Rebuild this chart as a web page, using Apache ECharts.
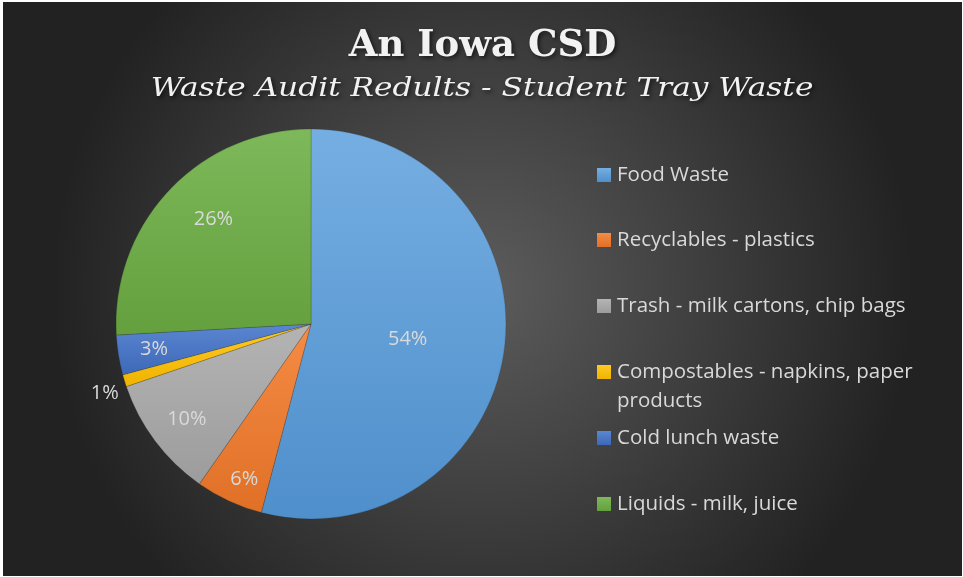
<!DOCTYPE html>
<html>
<head>
<meta charset="utf-8">
<script src="https://cdn.jsdelivr.net/npm/echarts@6/dist/echarts.min.js"></script>
<style>
html,body{margin:0;padding:0;background:#ffffff;width:963px;height:577px;overflow:hidden;}
#chart{position:absolute;left:3px;top:2px;width:959px;height:574px;}
</style>
</head>
<body>
<div id="chart"></div>
<script>
const titleText = 'An Iowa CSD';
const subtitleText = 'Waste Audit Redults - Student Tray Waste';
const categories = ['Food Waste', 'Recyclables - plastics', 'Trash - milk cartons, chip bags', 'Compostables - napkins, paper products', 'Cold lunch waste', 'Liquids - milk, juice'];
const values = [54.1, 5.6, 10.1, 1.0, 3.3, 25.9];
const lightColors = ['#75aee2', '#f58b45', '#b4b4b4', '#ffca26', '#5b86d0', '#7db85a'];
const darkColors = ['#4f8fcb', '#e07026', '#9c9c9c', '#f0b400', '#3c68b8', '#64a03d'];

const chart = echarts.init(document.getElementById('chart'));
const textColor = '#d9d9d9';
const fontFam = '"Open Sans", "Noto Sans", sans-serif';
const serifFam = '"DejaVu Serif", "Liberation Serif", serif';

function grad(i) {
  return new echarts.graphic.LinearGradient(0, 0, 0, 1, [
    {offset: 0, color: lightColors[i]},
    {offset: 1, color: darkColors[i]}
  ]);
}

const mainData = categories.map((name, i) => {
  const item = {name: name, value: values[i], itemStyle: {color: grad(i)}};
  if (i === 0) {
    item.label = {show: true, position: 'inside'};
  } else if (i === 3) {
    item.label = {show: true, position: 'outside'};
    item.labelLine = {show: false, length: 6, length2: 0};
  } else {
    item.label = {show: false};
  }
  return item;
});

const overlayData = categories.map((name, i) => ({
  name: name, value: values[i],
  itemStyle: {color: 'rgba(0,0,0,0)'},
  label: {show: !(i === 0 || i === 3)}
}));

// small label nudges (label placement only)
const mainNudge = {0: [-3, 2], 3: [5, 11]};
const overlayNudge = {1: [0, 11], 5: [18, 5], 2: [3, 0]};

const legendTops = [161, 226, 292, 358, 424, 490];
const legends = categories.map((name, i) => ({
  data: [name],
  orient: 'vertical',
  left: 594,
  top: legendTops[i],
  padding: 0,
  icon: 'rect',
  itemWidth: 14,
  itemHeight: 14,
  itemGap: 0,
  selectedMode: false,
  itemStyle: {borderWidth: 0},
  formatter: (n) => n === categories[3] ? 'Compostables - napkins, paper' : n,
  textStyle: {color: textColor, fontSize: 20.5, fontFamily: fontFam, lineHeight: 24, padding: [0, 0, 0, 1]}
}));

chart.setOption({
  backgroundColor: new echarts.graphic.RadialGradient(0.5, 0.5, 0.75, [
    {offset: 0, color: '#5c5c5c'},
    {offset: 1, color: '#222222'}
  ]),
  animation: false,
  title: {
    text: titleText,
    left: 'center',
    top: 21,
    textStyle: {
      color: '#f2f2f2', fontSize: 37, fontWeight: 'bold',
      fontFamily: serifFam,
      textShadowColor: 'rgba(0,0,0,0.6)', textShadowBlur: 4, textShadowOffsetX: 2, textShadowOffsetY: 2
    }
  },
  legend: legends,
  graphic: [{
    type: 'text',
    x: 479,
    y: 87,
    scaleX: 1.2,
    style: {
      text: subtitleText, fill: '#f2f2f2', fontSize: 26, fontStyle: 'italic',
      fontFamily: serifFam, align: 'center', verticalAlign: 'middle',
      textShadowColor: 'rgba(0,0,0,0.6)', textShadowBlur: 4, textShadowOffsetX: 2, textShadowOffsetY: 2
    }
  }, {
    type: 'text',
    left: 614,
    top: 389,
    style: {text: 'products', fill: textColor, fontSize: 20.5, fontFamily: fontFam}
  }],
  series: [{
    type: 'pie',
    center: [308, 322],
    radius: [0, 195],
    startAngle: 90,
    clockwise: true,
    silent: true,
    percentPrecision: 0,
    itemStyle: {borderColor: 'rgba(40,40,40,0.35)', borderWidth: 0.6},
    label: {formatter: '{d}%', color: textColor, fontSize: 20, fontFamily: fontFam},
    labelLine: {show: false},
    labelLayout: (p) => {
      const n = mainNudge[p.dataIndex];
      return n ? {dx: n[0], dy: n[1]} : {};
    },
    data: mainData
  }, {
    type: 'pie',
    center: [308, 322],
    radius: [0, 312],
    startAngle: 90,
    clockwise: true,
    silent: true,
    percentPrecision: 0,
    legendHoverLink: false,
    label: {position: 'inside', formatter: '{d}%', color: textColor, fontSize: 20, fontFamily: fontFam},
    labelLine: {show: false},
    labelLayout: (p) => {
      const n = overlayNudge[p.dataIndex];
      return n ? {dx: n[0], dy: n[1]} : {};
    },
    data: overlayData
  }]
});
</script>
</body>
</html>
